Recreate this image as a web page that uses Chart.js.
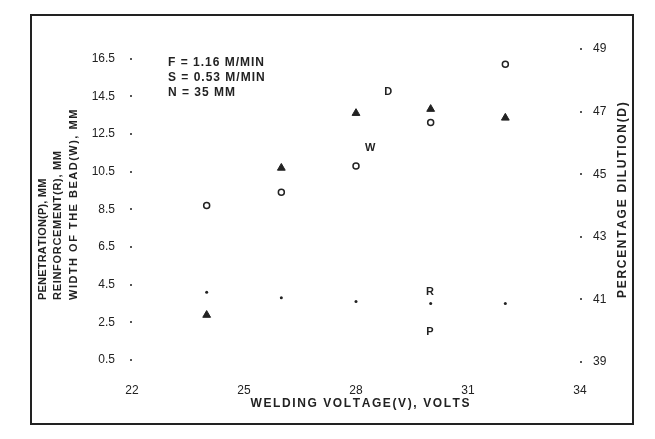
<!DOCTYPE html>
<html>
<head>
<meta charset="utf-8">
<script src="https://cdn.jsdelivr.net/npm/chart.js@4.4.1/dist/chart.umd.min.js"></script>
<style>
  html, body { margin: 0; padding: 0; background: #fff; }
  #wrap { position: relative; width: 655px; height: 439px; }
  #frame { position: absolute; left: 30px; top: 14px; width: 600px; height: 407px; border: 2px solid #222; pointer-events: none; }
  canvas { position: absolute; left: 0; top: 0; }
</style>
</head>
<body>
<div id="wrap">
  <canvas id="c" width="655" height="439"></canvas>
  <div id="frame"></div>
</div>
<script>
// ---- data ----
const voltage = [24, 26, 28, 30, 32];
const beadWidth = [8.7, 9.4, 10.8, 13.1, 16.2];        // W, mm (left axis)
const reinforcement = [4.1, 3.8, 3.6, 3.5, 3.5];       // R, mm (left axis)
const dilution = [40.5, 45.2, 46.95, 47.08, 46.8];     // D, % (right axis)
const leftTicks = [0.5, 2.5, 4.5, 6.5, 8.5, 10.5, 12.5, 14.5, 16.5];
const rightTicks = [39, 41, 43, 45, 47, 49];
const xTicks = [22, 25, 28, 31, 34];
const curveLabels = ['D', 'W', 'R', 'P'];
const curveLabelX = [28.86, 28.38, 29.98, 29.98];
const curveLabelY = [47.64, 11.77, 4.12, 1.99];
const curveLabelAxis = ['y2', 'y', 'y', 'y'];
const noteLines = ['F = 1.16 M/MIN', 'S = 0.53 M/MIN', 'N = 35 MM'];
const xTitle = 'WELDING VOLTAGE(V), VOLTS';
const leftTitle = ['PENETRATION(P), MM', 'REINFORCEMENT(R), MM', 'WIDTH OF THE BEAD(W), MM'];
const rightTitle = 'PERCENTAGE DILUTION(D)';

const INK = '#222';
const FONT = '"Liberation Sans", Arial, sans-serif';

const pts = (xs, ys) => xs.map((x, i) => ({ x: x, y: ys[i] }));

// draw text char by char with extra spacing; align 'left' or 'center'
function spaced(ctx, text, x, y, sp, align) {
  const chars = Array.from(text);
  const widths = chars.map(c => ctx.measureText(c).width);
  const total = widths.reduce((a, b) => a + b, 0) + sp * (chars.length - 1);
  let cx = align === 'center' ? x - total / 2 : x;
  const prev = ctx.textAlign;
  ctx.textAlign = 'left';
  chars.forEach((c, i) => { ctx.fillText(c, cx, y); cx += widths[i] + sp; });
  ctx.textAlign = prev;
}

const textPlugin = {
  id: 'texts',
  afterDraw(chart) {
    const ctx = chart.ctx;
    const xs = chart.scales.x;
    ctx.save();
    ctx.fillStyle = INK;
    ctx.textBaseline = 'middle';
    // curve labels
    ctx.font = 'bold 11px ' + FONT;
    ctx.textAlign = 'center';
    curveLabels.forEach((t, i) => {
      const ys = chart.scales[curveLabelAxis[i]];
      ctx.fillText(t, xs.getPixelForValue(curveLabelX[i]), ys.getPixelForValue(curveLabelY[i]));
    });
    // note
    ctx.font = 'bold 12px ' + FONT;
    noteLines.forEach((t, i) => spaced(ctx, t, 168, 63 + i * 15, 1, 'left'));
    // x title
    ctx.font = 'bold 12px ' + FONT;
    spaced(ctx, xTitle, 360, 404, 1.6, 'center');
    // left title (rotated, bottom aligned)
    ctx.font = 'bold 11px ' + FONT;
    const lx = [43, 58, 74];
    const lsp = [0.2, 0.7, 1.5];
    leftTitle.forEach((t, i) => {
      ctx.save();
      ctx.translate(lx[i], 300);
      ctx.rotate(-Math.PI / 2);
      spaced(ctx, t, 0, 0, lsp[i], 'left');
      ctx.restore();
    });
    ctx.font = 'bold 12px ' + FONT;
    ctx.save();
    ctx.translate(623, 298);
    ctx.rotate(-Math.PI / 2);
    spaced(ctx, rightTitle, 0, 0, 1.7, 'left');
    ctx.restore();
    ctx.restore();
  }
};

new Chart(document.getElementById('c'), {
  type: 'scatter',
  data: {
    datasets: [
      { label: 'W', data: pts(voltage, beadWidth), yAxisID: 'y', pointStyle: 'circle', pointRadius: 3,
        borderColor: INK, backgroundColor: '#fff', borderWidth: 1.5, showLine: false },
      { label: 'R', data: pts(voltage, reinforcement), yAxisID: 'y', pointStyle: 'circle', pointRadius: 1.5,
        borderColor: INK, backgroundColor: INK, borderWidth: 0, showLine: false },
      { label: 'D', data: pts(voltage, dilution), yAxisID: 'y2', pointStyle: 'triangle', pointRadius: 4.5,
        borderColor: INK, backgroundColor: INK, borderWidth: 1, showLine: false }
    ]
  },
  options: {
    responsive: false,
    animation: false,
    events: [],
    layout: { padding: { top: 49, left: 0, right: 0, bottom: 0 } },
    plugins: { legend: { display: false }, tooltip: { enabled: false }, title: { display: false } },
    scales: {
      x: {
        type: 'linear', min: 22, max: 34,
        afterBuildTicks: s => { s.ticks = xTicks.map(v => ({ value: v })); },
        afterFit: s => { s.height = 77; },
        grid: { display: false }, border: { display: false },
        ticks: { color: INK, font: { family: FONT, size: 12 }, padding: 13, callback: v => String(v) }
      },
      y: {
        type: 'linear', position: 'left', min: 0.394, max: 17.005,
        afterBuildTicks: s => { s.ticks = leftTicks.map(v => ({ value: v })); },
        afterFit: s => { s.width = 132; },
        grid: { drawOnChartArea: false, drawTicks: true, tickLength: 2, color: '#555', lineWidth: 2 },
        border: { display: false },
        ticks: { color: INK, font: { family: FONT, size: 12 }, padding: 15, callback: v => v.toFixed(1) }
      },
      y2: {
        type: 'linear', position: 'right', min: 39, max: 49,
        afterBuildTicks: s => { s.ticks = rightTicks.map(v => ({ value: v })); },
        afterFit: s => { s.width = 75; },
        grid: { drawOnChartArea: false, drawTicks: true, tickLength: 2, color: '#555', lineWidth: 2 },
        border: { display: false },
        ticks: { color: INK, font: { family: FONT, size: 12 }, padding: 11, callback: v => String(v) }
      }
    }
  },
  plugins: [textPlugin]
});
</script>
</body>
</html>
